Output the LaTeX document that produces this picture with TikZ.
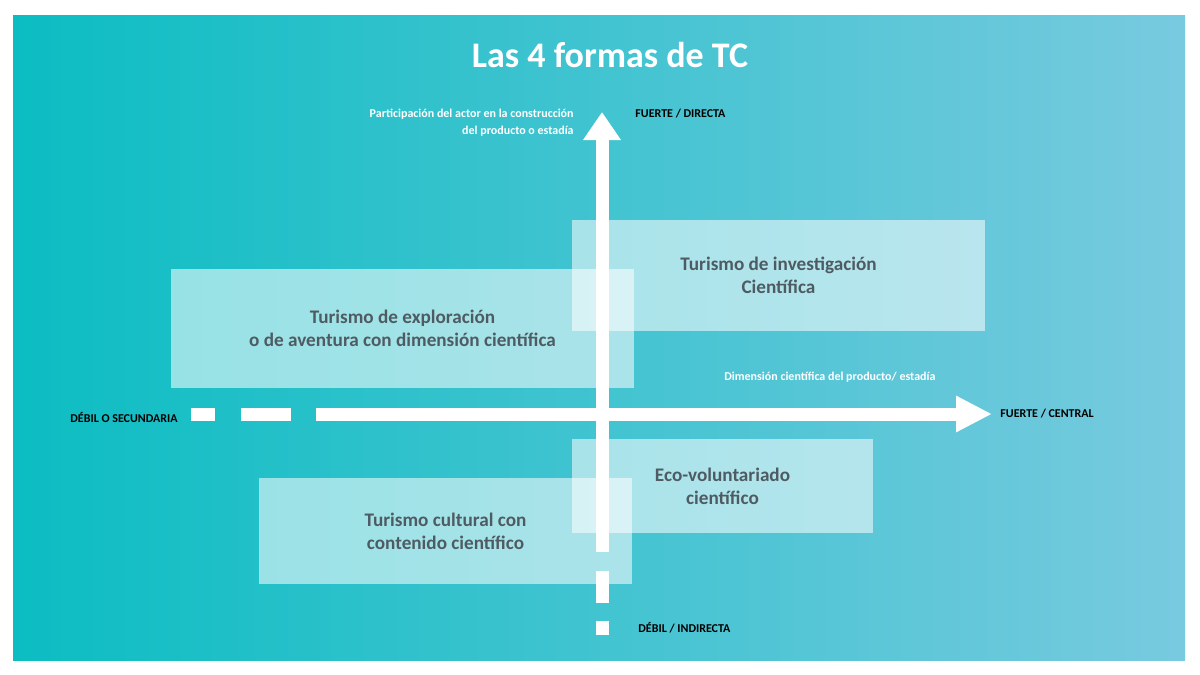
\documentclass[tikz,border=0pt]{standalone}
\usepackage{fontspec}
\setmainfont{Carlito}
\usetikzlibrary{positioning,arrows.meta}

\definecolor{bgleft}{HTML}{0BBDC2}
\definecolor{bgright}{HTML}{78CADF}
\definecolor{boxtext}{HTML}{4F5B62}

\tikzset{
    form/.style={fill=white, fill opacity=0.55, text opacity=1, text=boxtext,
        font=\bfseries\fontsize{9.6}{11.5}\selectfont, align=center, inner sep=0pt},
    tag/.style={font=\bfseries\fontsize{6}{8.5}\selectfont, inner sep=0pt},
    axis/.style={white, line width=6.5pt},
}

\begin{document}
\begin{tikzpicture}[x=0.5pt,y=-0.5pt]
    \useasboundingbox[fill=white] (0,0) rectangle (1200,675);
    \shade[left color=bgleft, right color=bgright] (13,15) rectangle (1185,660);

    \node[white, font=\bfseries\fontsize{18}{20}\selectfont] (title) at (610,55) {Las 4 formas de TC};

    % ejes
    \coordinate (h0) at (316,414);
    \coordinate (h1) at (992,414);
    \coordinate (v0) at (602,552);
    \coordinate (v1) at (602,112);
    \draw[axis, -{Triangle[length=18pt,width=17pt]}] (h0) -- (h1);
    \draw[axis, -{Triangle[length=14pt,width=18pt]}] (v0) -- (v1);
    \foreach \a/\b in {191/215, 241/291}
        \draw[axis] (\a,414) -- (\b,414);
    \foreach \a/\b in {571/603, 621/635}
        \draw[axis] (602,\a) -- (602,\b);

    % formas
    \node[form, minimum width=231.5pt, minimum height=59.5pt] (explo) at (402.5,328.5)
        {Turismo de exploración\\o de aventura con dimensión científica};
    \node[form, minimum width=206.5pt, minimum height=55.5pt] (inves) at (778.5,275.5)
        {Turismo de investigación\\Científica};
    \node[form, minimum width=150.5pt, minimum height=47pt] (eco) at (722.5,486)
        {Eco-voluntariado\\científico};
    \node[form, minimum width=186.5pt, minimum height=53pt] (cult) at (445.5,531)
        {Turismo cultural con\\contenido científico};

    % etiquetas
    \node[tag, white, align=right, anchor=north east] (part) at (574,109)
        {Participación del actor en la construcción\\del producto o estadía};
    \node[tag, anchor=west] (fd) at (635,114) {FUERTE / DIRECTA};
    \node[tag, white, anchor=west] (dim) at (724,377) {Dimensión científica del producto/ estadía};
    \node[tag, anchor=east] (ds) at (178,417) {DÉBIL O SECUNDARIA};
    \node[tag, anchor=west] (fc) at (1000,414) {FUERTE / CENTRAL};
    \node[tag, anchor=west] (di) at (638,628) {DÉBIL / INDIRECTA};
\end{tikzpicture}
\end{document}
